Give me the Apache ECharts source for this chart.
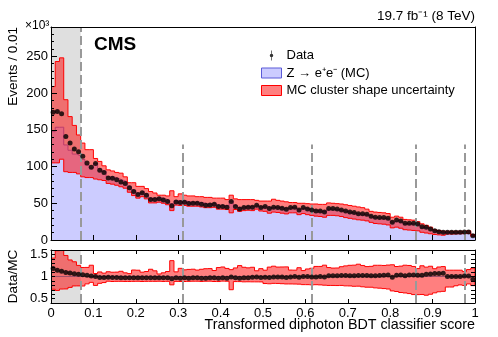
<!DOCTYPE html>
<html>
<head>
<meta charset="utf-8">
<script src="https://cdn.jsdelivr.net/npm/echarts@6/dist/echarts.min.js"></script>
<style>
html, body { margin: 0; padding: 0; background: #fff; }
#chart { width: 498px; height: 337px; }
</style>
</head>
<body>
<div id="chart"></div>
<script>
// bins of 0.01 in transformed BDT score, events in units of 10^3
const binWidth = 0.01;
const dataEvents = [
  174, 175, 172, 141, 132, 124, 120, 114, 105, 99,
  104, 95, 92, 84.5, 84, 82, 79, 77, 71, 66,
  62, 64.5, 61, 55, 55, 56, 54.6, 52.3, 46.8, 51.8,
  50.9, 51.4, 49.6, 50, 50, 48.7, 47.3, 47.7, 48.7, 45.5,
  45.5, 44.6, 52.3, 45.5, 42.3, 44.1, 44.6, 44.6, 47.3, 44.1,
  45.5, 42.8, 44.6, 44.1, 43.2, 41.8, 44.1, 44.6, 40.9, 44.1,
  42.3, 40.9, 39.5, 39.5, 38.2, 42.8, 42.8, 42.3, 40.9, 39.5,
  38.2, 37.3, 35.9, 35.9, 35, 32.3, 30.9, 30.5, 30.5, 29.5,
  24.1, 27.3, 25.9, 22.7, 22.7, 22.7, 21.8, 18.2, 17.3, 15,
  12.7, 11.4, 10.5, 10.5, 10.5, 10.5, 10.5, 10.9, 10.9, 5.9
];
const mcEvents = [
  147.5, 153.5, 153.6, 129.4, 122.2, 117, 114.3, 109.6, 102, 98,
  104, 97, 93.9, 86.2, 85.7, 83.7, 81.4, 79.4, 73.2, 68,
  63.9, 66.5, 62.9, 56.7, 56.7, 57.7, 56.3, 53.9, 49.3, 53.4,
  53, 53, 51.7, 51.5, 51.5, 50.7, 49.3, 49.2, 50.2, 47.4,
  46.9, 46.5, 52.8, 46.9, 44.1, 45.5, 46, 45.5, 47.8, 45,
  46.4, 43.7, 45, 44.5, 43.6, 42.7, 44.5, 44.6, 41.7, 44.1,
  42.3, 41.3, 39.9, 39.5, 38.6, 42, 42, 41.5, 40.1, 38.7,
  37.5, 36.6, 35.2, 35.2, 34.3, 31.7, 30.3, 29.9, 29.6, 28.6,
  24.5, 26.5, 25.1, 22.3, 22, 22, 21.2, 17.7, 16.5, 14.2,
  11.9, 10.7, 9.8, 10.5, 10.5, 10.5, 10.5, 10.8, 10.8, 6.3
];
const mcUp = [
  209, 243, 248, 191, 168, 156, 143, 132, 123, 123,
  111, 107, 101, 95.5, 94, 92, 91, 86, 78, 78,
  73, 73, 70, 66, 64, 61, 61, 60, 67, 59,
  62.8, 61, 60, 60, 59, 59, 58, 58, 57, 57,
  57, 55, 61, 56, 55, 55, 55, 55, 54, 53,
  53, 53, 55.5, 54, 53, 52, 51, 51, 50, 50,
  49.5, 49, 49, 48.5, 48.5, 50.5, 50, 49.5, 49, 48,
  47, 46, 45, 44, 42, 39, 38, 37.5, 37, 36,
  31, 32.5, 31, 28, 27.5, 27, 25, 22, 20, 17.5,
  14, 13, 12, 12, 12, 12, 12, 12, 12.5, 7.5
];
const mcDown = [
  105, 105, 110, 93, 92, 92, 90, 86, 85, 85,
  83, 82, 81, 77, 76, 74.5, 72.5, 70.5, 65, 60.5,
  57, 59, 56, 50.5, 50.5, 51.5, 50, 48, 40, 47.5,
  47, 47, 46, 46, 46, 45, 44, 44, 44.5, 42,
  42, 41.5, 37, 41.5, 39, 40, 40.5, 40, 42, 39.5,
  39, 36.5, 38, 37.5, 36.5, 35.5, 37, 37, 34.5, 36,
  34.5, 33.5, 32.5, 32, 31, 33.5, 33.5, 33, 32, 30.5,
  29.5, 28.5, 27.5, 27, 26, 24, 22.5, 22, 21.5, 20.5,
  16.5, 17.5, 16, 14, 13.5, 13, 12.5, 10.5, 9.5, 8.5,
  7.5, 7, 6.5, 8, 8, 8.3, 8.5, 8.6, 9, 5
];
const regionEdges = [0.07, 0.31, 0.615, 0.86, 0.975];
const ratioTickLabels = [0.5, 1, 1.5];

const ratio = dataEvents.map((v, i) => v / mcEvents[i]);
const ratioUp = mcUp.map((v, i) => v / mcEvents[i]);
const ratioDown = mcDown.map((v, i) => v / mcEvents[i]);

function stepPoints(values) {
  const pts = values.map((v, i) => [i * binWidth, v]);
  pts.push([values.length * binWidth, values[values.length - 1]]);
  return pts;
}
function centerPoints(values) {
  return values.map((v, i) => [(i + 0.5) * binWidth, v]);
}
// band polygon: upper step edge, then lower step edge back
function bandRenderer(up, down) {
  return function (params, api) {
    const pts = [];
    for (let i = 0; i < up.length; i++) {
      pts.push(api.coord([i * binWidth, up[i]]), api.coord([(i + 1) * binWidth, up[i]]));
    }
    for (let i = down.length - 1; i >= 0; i--) {
      pts.push(api.coord([(i + 1) * binWidth, down[i]]), api.coord([i * binWidth, down[i]]));
    }
    return {
      type: 'polygon',
      shape: { points: pts },
      style: { fill: 'rgba(255,0,0,0.5)', stroke: '#ff0000', lineWidth: 1 }
    };
  };
}

const font = '"Liberation Sans", Arial, Helvetica, sans-serif';
const mcName = 'Z \u2192 e\u207Ae\u207B (MC)';
const bandName = 'MC cluster shape uncertainty';
const dashStyle = { color: '#999', width: 2, type: [9, 4] };

let chart = echarts.init(document.getElementById('chart'))
let option = {
  animation: false,
  textStyle: { fontFamily: font, color: '#000' },
  title: [
    { text: 'CMS', left: 94, top: 35, padding: 0,
      textStyle: { fontSize: 19, fontWeight: 'bold', color: '#000', fontFamily: font } },
    { text: '19.7 fb\u207B\u00B9 (8 TeV)', right: 23, top: 9, padding: 0,
      textStyle: { fontSize: 13.5, fontWeight: 'normal', color: '#000', fontFamily: font } },
    { text: '\u00D710\u00B3', left: 25, top: 20, padding: 0,
      textStyle: { fontSize: 12, fontWeight: 'normal', color: '#000', fontFamily: font } },
    { text: 'Transformed diphoton BDT classifier score', right: 23, top: 318, padding: 0,
      textStyle: { fontSize: 14.3, fontWeight: 'normal', color: '#000', fontFamily: font } }
  ],
  graphic: [
    { type: 'text', x: 13, y: 27, rotation: Math.PI / 2,
      style: { text: 'Events / 0.01', fontSize: 13.5, fontFamily: font, fill: '#000', align: 'right', verticalAlign: 'middle' } },
    { type: 'text', x: 13, y: 276.5, rotation: Math.PI / 2,
      style: { text: 'Data/MC', fontSize: 13.5, fontFamily: font, fill: '#000', align: 'center', verticalAlign: 'middle' } }
  ],
  legend: {
    orient: 'vertical',
    left: 256,
    top: 44,
    itemWidth: 20,
    itemHeight: 10,
    itemGap: 4.5,
    selectedMode: false,
    textStyle: { fontSize: 13, color: '#000', fontFamily: font },
    data: [
      { name: 'Data', icon: 'path://M9.3,0H10.7V20H9.3Z M10,6.5A3.5,3.5 0 1 1 10,13.5A3.5,3.5 0 1 1 10,6.5Z',
        itemStyle: { color: '#000' } },
      { name: mcName, icon: 'rect', itemStyle: { color: '#ccccff', borderColor: '#5a5ad8', borderWidth: 1 } },
      { name: bandName, icon: 'rect', itemStyle: { color: '#ff8080', borderColor: '#ff0000', borderWidth: 1 } }
    ]
  },
  grid: [
    { left: 51, top: 27, width: 424, height: 213 },
    { left: 51, top: 250, width: 424, height: 53 }
  ],
  xAxis: [
    { gridIndex: 0, type: 'value', min: 0, max: 1, interval: 0.1, z: 10,
      axisLine: { show: true, onZero: false, lineStyle: { color: '#000', width: 1 } },
      axisTick: { inside: true, length: 5, lineStyle: { color: '#000' } },
      axisLabel: { show: false }, splitLine: { show: false } },
    { gridIndex: 0, type: 'value', position: 'top', min: 0, max: 1, interval: 0.1, z: 10,
      axisLine: { show: true, onZero: false, lineStyle: { color: '#000', width: 1 } },
      axisTick: { show: false }, axisLabel: { show: false }, splitLine: { show: false } },
    { gridIndex: 1, type: 'value', min: 0, max: 1, interval: 0.1, z: 10,
      axisLine: { show: true, onZero: false, lineStyle: { color: '#000', width: 1 } },
      axisTick: { inside: true, length: 4, lineStyle: { color: '#000' } },
      axisLabel: { fontSize: 13, color: '#000', margin: 4, fontFamily: font,
        formatter: v => String(+v.toFixed(1)) },
      splitLine: { show: false } },
    { gridIndex: 1, type: 'value', position: 'top', min: 0, max: 1, interval: 0.1, z: 10,
      axisLine: { show: true, onZero: false, lineStyle: { color: '#000', width: 1 } },
      axisTick: { inside: true, length: 4, lineStyle: { color: '#000' } },
      axisLabel: { show: false }, splitLine: { show: false } }
  ],
  yAxis: [
    { gridIndex: 0, type: 'value', min: 0, max: 290, interval: 50, z: 10,
      axisLine: { show: true, onZero: false, lineStyle: { color: '#000', width: 1 } },
      axisTick: { inside: true, length: 6, lineStyle: { color: '#000' } },
      minorTick: { show: true, splitNumber: 5, length: 3, lineStyle: { color: '#000' } },
      axisLabel: { fontSize: 13, color: '#000', margin: 3, showMaxLabel: false, fontFamily: font },
      splitLine: { show: false } },
    { gridIndex: 0, type: 'value', position: 'right', min: 0, max: 290, interval: 50, z: 10,
      axisLine: { show: true, onZero: false, lineStyle: { color: '#000', width: 1 } },
      axisTick: { show: false }, axisLabel: { show: false }, splitLine: { show: false } },
    { gridIndex: 1, type: 'value', min: 0.4, max: 1.6, interval: 0.1, z: 10,
      axisLine: { show: true, onZero: false, lineStyle: { color: '#000', width: 1 } },
      axisTick: { inside: true, length: 4, lineStyle: { color: '#000' } },
      axisLabel: { fontSize: 13, color: '#000', margin: 3, fontFamily: font, showMinLabel: false, showMaxLabel: false,
        formatter: v => {
          const t = ratioTickLabels.find(x => Math.abs(x - v) < 1e-6);
          return t === undefined ? '' : String(t);
        } },
      splitLine: { show: false } },
    { gridIndex: 1, type: 'value', position: 'right', min: 0.4, max: 1.6, interval: 0.1, z: 10,
      axisLine: { show: true, onZero: false, lineStyle: { color: '#000', width: 1 } },
      axisTick: { inside: true, length: 4, lineStyle: { color: '#000' } },
      axisLabel: { show: false }, splitLine: { show: false } }
  ],
  series: [
    { name: mcName, type: 'line', xAxisIndex: 0, yAxisIndex: 0, step: 'end', z: 1,
      data: stepPoints(mcEvents), showSymbol: false, symbol: 'none',
      lineStyle: { color: '#7a7ad6', width: 1 },
      itemStyle: { color: '#ccccff' },
      areaStyle: { color: '#ccccff', opacity: 1 } },
    { name: bandName, type: 'custom', xAxisIndex: 0, yAxisIndex: 0, z: 2, clip: true,
      data: [[0.5, 100]], renderItem: bandRenderer(mcUp, mcDown),
      itemStyle: { color: '#ff8080' } },
    { name: 'regionsTop', type: 'line', xAxisIndex: 0, yAxisIndex: 0, z: 3,
      data: [], showSymbol: false,
      markArea: { silent: true, itemStyle: { color: 'rgba(140,140,140,0.28)' },
        data: [[{ xAxis: 0, yAxis: 0 }, { xAxis: regionEdges[0], yAxis: 290 }]] },
      markLine: { silent: true, symbol: 'none', label: { show: false }, lineStyle: dashStyle,
        data: regionEdges.map((e, k) => [{ coord: [e, 0] }, { coord: [e, k === 0 ? 290 : 130] }]) } },
    { name: 'Data', type: 'scatter', xAxisIndex: 0, yAxisIndex: 0, z: 5,
      data: centerPoints(dataEvents), symbolSize: 5, itemStyle: { color: '#000' } },

    { name: 'ratioBand', type: 'custom', xAxisIndex: 2, yAxisIndex: 2, z: 2, clip: true,
      data: [[0.5, 1]], renderItem: bandRenderer(ratioUp, ratioDown) },
    { name: 'regionsBottom', type: 'line', xAxisIndex: 2, yAxisIndex: 2, z: 3,
      data: [], showSymbol: false,
      markArea: { silent: true, itemStyle: { color: 'rgba(140,140,140,0.28)' },
        data: [[{ xAxis: 0, yAxis: 0.4 }, { xAxis: regionEdges[0], yAxis: 1.6 }]] },
      markLine: { silent: true, symbol: 'none', label: { show: false },
        data: regionEdges.map(e => [{ coord: [e, 0.4], lineStyle: dashStyle }, { coord: [e, 1.6] }])
          .concat([[{ coord: [0, 1], lineStyle: { color: '#a0506a', width: 1, type: 'solid' } }, { coord: [1, 1] }]]) } },
    { name: 'ratio', type: 'scatter', xAxisIndex: 2, yAxisIndex: 2, z: 5,
      data: centerPoints(ratio), symbolSize: 5, itemStyle: { color: '#000' } }
  ]
}
option && chart.setOption(option)
</script>
</body>
</html>
